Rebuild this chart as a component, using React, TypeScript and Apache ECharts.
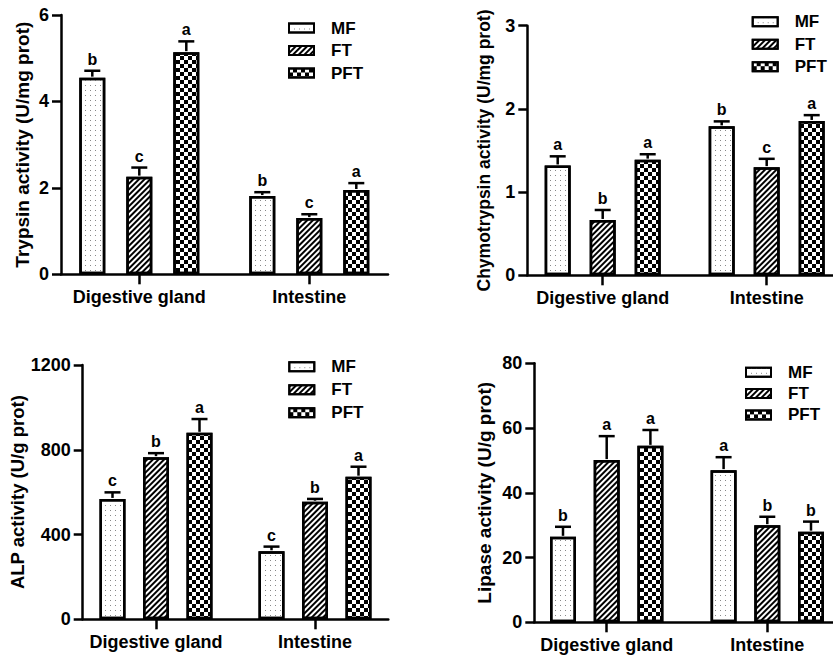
import React, { useEffect, useRef } from "react";
import * as echarts from "echarts";

// ---------- data ----------
const CATEGORIES = ["Digestive gland", "Intestine"];
const GROUPS = ["MF", "FT", "PFT"];

// Trypsin activity (U/mg prot)
const TRYPSIN_MF = [4.55, 1.81];
const TRYPSIN_FT = [2.26, 1.3];
const TRYPSIN_PFT = [5.14, 1.95];
const TRYPSIN_SD_MF = [0.16, 0.09];
const TRYPSIN_SD_FT = [0.21, 0.09];
const TRYPSIN_SD_PFT = [0.25, 0.16];
const TRYPSIN_LET_MF = ["b", "b"];
const TRYPSIN_LET_FT = ["c", "c"];
const TRYPSIN_LET_PFT = ["a", "a"];
const TRYPSIN_TICKS = [0, 2, 4, 6];

// Chymotrypsin activity (U/mg prot)
const CHYMO_MF = [1.32, 1.79];
const CHYMO_FT = [0.665, 1.3];
const CHYMO_PFT = [1.39, 1.855];
const CHYMO_SD_MF = [0.11, 0.06];
const CHYMO_SD_FT = [0.12, 0.1];
const CHYMO_SD_PFT = [0.065, 0.07];
const CHYMO_LET_MF = ["a", "b"];
const CHYMO_LET_FT = ["b", "c"];
const CHYMO_LET_PFT = ["a", "a"];
const CHYMO_TICKS = [0, 1, 2, 3];

// ALP activity (U/g prot)
const ALP_MF = [568, 321];
const ALP_FT = [765, 555];
const ALP_PFT = [880, 673];
const ALP_SD_MF = [31, 22];
const ALP_SD_FT = [19, 13];
const ALP_SD_PFT = [65, 47];
const ALP_LET_MF = ["c", "c"];
const ALP_LET_FT = ["b", "b"];
const ALP_LET_PFT = ["a", "a"];
const ALP_TICKS = [0, 400, 800, 1200];

// Lipase activity (U/g prot)
const LIPASE_MF = [26.4, 47.0];
const LIPASE_FT = [50.1, 30.0];
const LIPASE_PFT = [54.5, 28.0];
const LIPASE_SD_MF = [3.1, 4.0];
const LIPASE_SD_FT = [7.4, 2.6];
const LIPASE_SD_PFT = [4.9, 3.1];
const LIPASE_LET_MF = ["b", "a"];
const LIPASE_LET_FT = ["a", "b"];
const LIPASE_LET_PFT = ["a", "b"];
const LIPASE_TICKS = [0, 20, 40, 60, 80];

// ---------- layout / style ----------
const FONT = "Liberation Sans";
const PANELS = [
  {
    title: "Trypsin activity (U/mg prot)",
    means: [TRYPSIN_MF, TRYPSIN_FT, TRYPSIN_PFT],
    sds: [TRYPSIN_SD_MF, TRYPSIN_SD_FT, TRYPSIN_SD_PFT],
    lets: [TRYPSIN_LET_MF, TRYPSIN_LET_FT, TRYPSIN_LET_PFT],
    ticks: TRYPSIN_TICKS,
    axisX: 61, cat0: 139.3, cat1: 309.3, right: 388, top: 15, bottom: 274.3,
    offPx: 47, nameGap: 29, nameSize: 19, legendLeft: 288, legendTop: 19.5, legendGap: 5.5,
  },
  {
    title: "Chymotrypsin activity (U/mg prot)",
    means: [CHYMO_MF, CHYMO_FT, CHYMO_PFT],
    sds: [CHYMO_SD_MF, CHYMO_SD_FT, CHYMO_SD_PFT],
    lets: [CHYMO_LET_MF, CHYMO_LET_FT, CHYMO_LET_PFT],
    ticks: CHYMO_TICKS,
    axisX: 527.3, cat0: 602.7, cat1: 766.7, right: 833, top: 25.7, bottom: 275.3,
    offPx: 45, nameGap: 34.5, nameSize: 17.5, legendLeft: 751.7, legendTop: 13.2, legendGap: 5.5,
  },
  {
    title: "ALP activity (U/g prot)",
    means: [ALP_MF, ALP_FT, ALP_PFT],
    sds: [ALP_SD_MF, ALP_SD_FT, ALP_SD_PFT],
    lets: [ALP_LET_MF, ALP_LET_FT, ALP_LET_PFT],
    ticks: ALP_TICKS,
    axisX: 82.7, cat0: 156, cat1: 315, right: 388.3, top: 365, bottom: 619.3,
    offPx: 43.5, nameGap: 51, nameSize: 18.5, legendLeft: 288.3, legendTop: 358.2, legendGap: 6,
  },
  {
    title: "Lipase activity (U/g prot)",
    means: [LIPASE_MF, LIPASE_FT, LIPASE_PFT],
    sds: [LIPASE_SD_MF, LIPASE_SD_FT, LIPASE_SD_PFT],
    lets: [LIPASE_LET_MF, LIPASE_LET_FT, LIPASE_LET_PFT],
    ticks: LIPASE_TICKS,
    axisX: 534.3, cat0: 606.7, cat1: 767.3, right: 833, top: 363.3, bottom: 622.3,
    offPx: 43.7, nameGap: 40, nameSize: 19, legendLeft: 745, legendTop: 363.8, legendGap: 4.3,
  },
];

const DECALS: any[] = [
  { symbol: "rect", symbolSize: 1, dashArrayX: [1, 3.4], dashArrayY: [1, 3.3], color: "#888" },
  { symbol: "rect", symbolSize: 1, dashArrayX: [1, 0], dashArrayY: [1.6, 2.0], rotation: -Math.PI / 4, color: "#000" },
  { symbol: "rect", symbolSize: 1, dashArrayX: [[4, 4], [0, 4, 4, 0]], dashArrayY: [4, 0], color: "#000" },
];

const LINE = { color: "#000", width: 2.5 };

function buildOption() {
  const grid: any[] = [];
  const xAxis: any[] = [];
  const yAxis: any[] = [];
  const legend: any[] = [];
  const series: any[] = [];

  PANELS.forEach((p, i) => {
    const span = p.cat1 - p.cat0;
    const xMin = (p.axisX - p.cat0) / span;
    const xMax = (p.right - p.cat0) / span;
    const off = p.offPx / span;
    const ticks = p.ticks;
    grid.push({ left: p.axisX, top: p.top, width: p.right - p.axisX, height: p.bottom - p.top });
    xAxis.push({
      type: "value",
      gridIndex: i,
      min: xMin,
      max: xMax,
      axisLine: { show: true, onZero: false, lineStyle: LINE },
      axisTick: { show: true, length: 10, customValues: [0, 1], lineStyle: LINE },
      axisLabel: {
        customValues: [0, 1],
        formatter: (v: number) => CATEGORIES[Math.round(v)] ?? "",
        fontSize: 18,
        fontWeight: "bold",
        fontFamily: FONT,
        color: "#000",
        margin: 14,
      },
      splitLine: { show: false },
    });
    yAxis.push({
      type: "value",
      gridIndex: i,
      min: ticks[0],
      max: ticks[ticks.length - 1],
      interval: ticks[1] - ticks[0],
      name: p.title,
      nameLocation: "middle",
      nameGap: p.nameGap,
      nameRotate: 90,
      nameTextStyle: { fontSize: p.nameSize, fontWeight: "bold", fontFamily: FONT, color: "#000" },
      axisLine: { show: true, onZero: false, lineStyle: LINE },
      axisTick: { show: true, length: 9, lineStyle: LINE },
      axisLabel: {
        fontSize: 18,
        fontWeight: "bold",
        fontFamily: FONT,
        color: "#000",
        margin: 12,
        formatter: (v: number) => String(v),
      },
      splitLine: { show: false },
    });
    legend.push({
      orient: "vertical",
      left: p.legendLeft,
      top: p.legendTop,
      padding: 0,
      itemGap: p.legendGap,
      itemWidth: 25,
      itemHeight: 9,
      icon: "rect",
      data: GROUPS,
      selectedMode: false,
      itemStyle: { borderColor: "#000", borderWidth: 2 },
      textStyle: {
        fontSize: 17,
        fontWeight: "bold",
        fontFamily: FONT,
        color: "#000",
        lineHeight: 17,
        padding: [0, 0, 0, 12],
      },
    });

    const errData: any[] = [];
    const errLetters: string[] = [];
    GROUPS.forEach((g, gi) => {
      const data = p.means[gi].map((v, c) => [c + (gi - 1) * off, v]);
      series.push({
        type: "bar",
        name: g,
        xAxisIndex: i,
        yAxisIndex: i,
        barWidth: 26,
        barGap: "-100%",
        data,
        itemStyle: { color: "#fff", borderColor: "#000", borderWidth: 2.5, decal: DECALS[gi] },
        emphasis: { disabled: true },
      });
      p.means[gi].forEach((v, c) => {
        errData.push([c + (gi - 1) * off, v, p.sds[gi][c]]);
        errLetters.push(p.lets[gi][c]);
      });
    });
    series.push({
      type: "custom",
      name: "err" + i,
      xAxisIndex: i,
      yAxisIndex: i,
      z: 5,
      clip: false,
      data: errData,
      renderItem: (params: any, api: any) => {
        const x = api.value(0);
        const m = api.value(1);
        const s = api.value(2);
        const p0 = api.coord([x, m]);
        const p1 = api.coord([x, m + s]);
        const cap = 8;
        return {
          type: "group",
          children: [
            { type: "line", shape: { x1: p0[0], y1: p0[1] - 1, x2: p1[0], y2: p1[1] }, style: { stroke: "#000", lineWidth: 2.5 } },
            { type: "line", shape: { x1: p1[0] - cap, y1: p1[1], x2: p1[0] + cap, y2: p1[1] }, style: { stroke: "#000", lineWidth: 2.5 } },
            {
              type: "text",
              style: {
                x: p1[0],
                y: p1[1] - 3.5,
                text: errLetters[params.dataIndex],
                font: `bold 16px "${FONT}"`,
                fill: "#000",
                align: "center",
                verticalAlign: "bottom",
              },
            },
          ],
        };
      },
    });
  });

  return {
    animation: false,
    backgroundColor: "#fff",
    textStyle: { fontFamily: FONT },
    grid,
    xAxis,
    yAxis,
    legend,
    series,
  };
}

export default function App() {
  const ref = useRef<HTMLDivElement>(null);
  useEffect(() => {
    if (!ref.current) return;
    const chart = echarts.init(ref.current, undefined, { renderer: "svg" });
    chart.setOption(buildOption() as any);
    return () => chart.dispose();
  }, []);
  return (
    <div
      ref={ref}
      style={{ position: "absolute", left: 0, top: 0, width: 833, height: 657, background: "#fff" }}
    />
  );
}
